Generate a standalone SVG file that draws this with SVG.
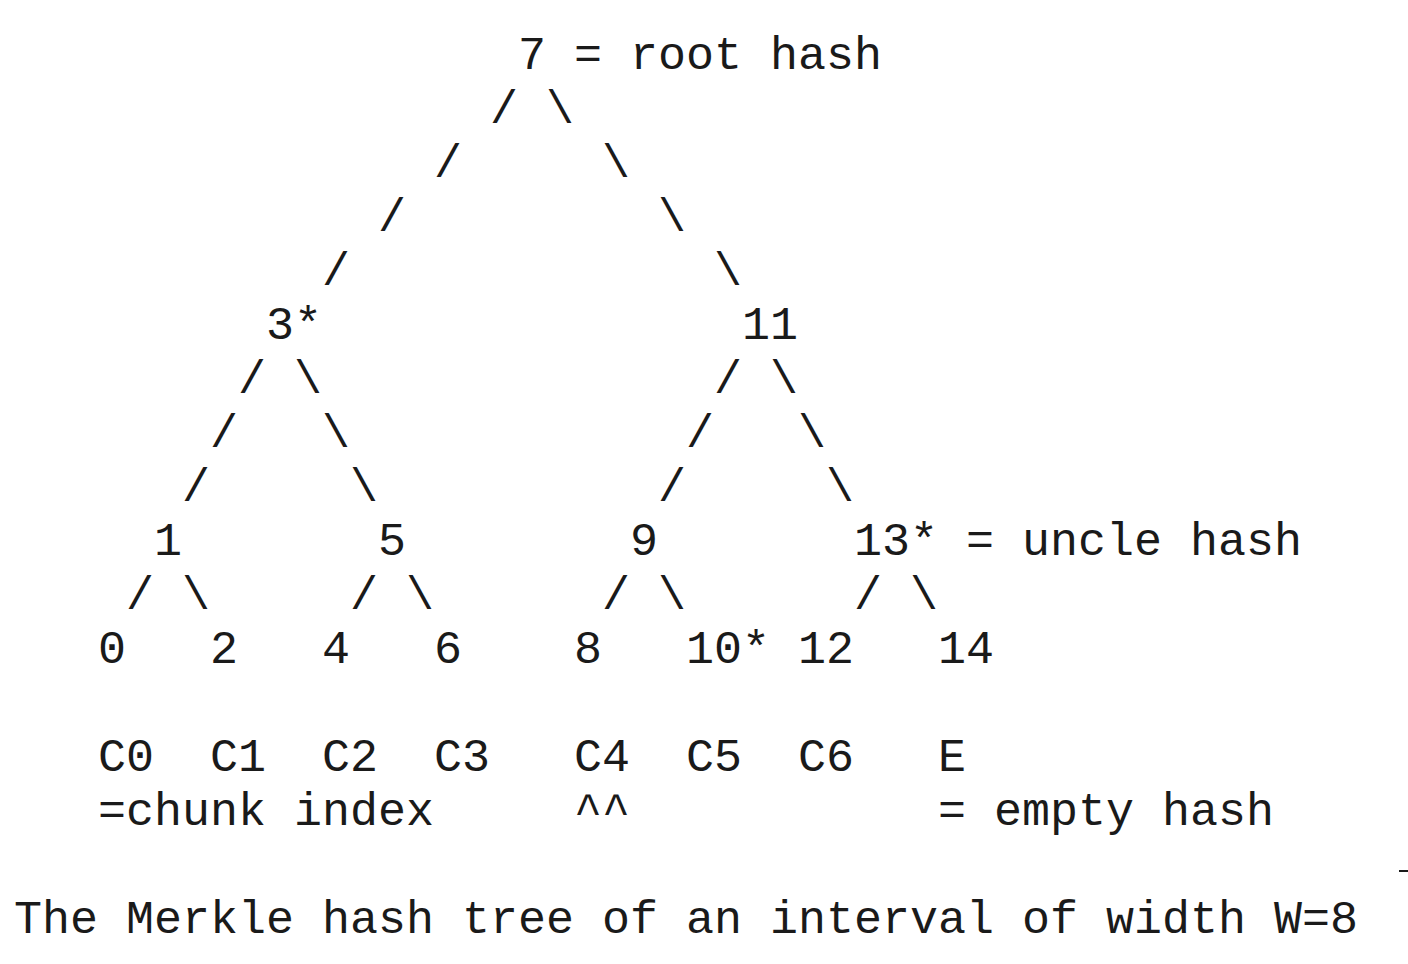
<svg xmlns="http://www.w3.org/2000/svg" width="1408" height="964" viewBox="0 0 1408 964">
<style>
text{font-family:"Liberation Mono","DejaVu Sans Mono",monospace;font-size:46.67px;fill:#1a1a1a;white-space:pre}
</style>
<rect width="1408" height="964" fill="#ffffff"/>
<g id="connectors">
<text x="490" y="123">/</text><text x="546" y="123">\</text>
<text x="434" y="177">/</text><text x="602" y="177">\</text>
<text x="378" y="231">/</text><text x="658" y="231">\</text>
<text x="322" y="285">/</text><text x="714" y="285">\</text>
<text x="238" y="393">/</text><text x="294" y="393">\</text><text x="714" y="393">/</text><text x="770" y="393">\</text>
<text x="210" y="447">/</text><text x="322" y="447">\</text><text x="686" y="447">/</text><text x="798" y="447">\</text>
<text x="182" y="501">/</text><text x="350" y="501">\</text><text x="658" y="501">/</text><text x="826" y="501">\</text>
<text x="126" y="609">/</text><text x="182" y="609">\</text><text x="350" y="609">/</text><text x="406" y="609">\</text><text x="602" y="609">/</text><text x="658" y="609">\</text><text x="854" y="609">/</text><text x="910" y="609">\</text>
</g>
<g id="node-7"><text x="518" y="69">7</text></g>
<g id="label-root"><text x="574" y="69">= root hash</text></g>
<g id="node-3"><text x="266" y="339">3*</text></g>
<g id="node-11"><text x="742" y="339">11</text></g>
<g id="node-1"><text x="154" y="555">1</text></g>
<g id="node-5"><text x="378" y="555">5</text></g>
<g id="node-9"><text x="630" y="555">9</text></g>
<g id="node-13"><text x="854" y="555">13*</text></g>
<g id="label-uncle"><text x="966" y="555">= uncle hash</text></g>
<g id="node-0"><text x="98" y="663">0</text></g>
<g id="node-2"><text x="210" y="663">2</text></g>
<g id="node-4"><text x="322" y="663">4</text></g>
<g id="node-6"><text x="434" y="663">6</text></g>
<g id="node-8"><text x="574" y="663">8</text></g>
<g id="node-10"><text x="686" y="663">10*</text></g>
<g id="node-12"><text x="798" y="663">12</text></g>
<g id="node-14"><text x="938" y="663">14</text></g>
<g id="chunks">
<text x="98" y="771">C0</text><text x="210" y="771">C1</text><text x="322" y="771">C2</text><text x="434" y="771">C3</text><text x="574" y="771">C4</text><text x="686" y="771">C5</text><text x="798" y="771">C6</text><text x="938" y="771">E</text>
</g>
<g id="legend">
<text x="98" y="825">=chunk index</text><text x="574" y="825">^^</text><text x="938" y="825">= empty hash</text>
</g>
<g id="caption"><text x="14" y="933">The Merkle hash tree of an interval of width W=8</text></g>
<line x1="1399" y1="871" x2="1408" y2="871" stroke="#1a1a1a" stroke-width="2"/>
</svg>
